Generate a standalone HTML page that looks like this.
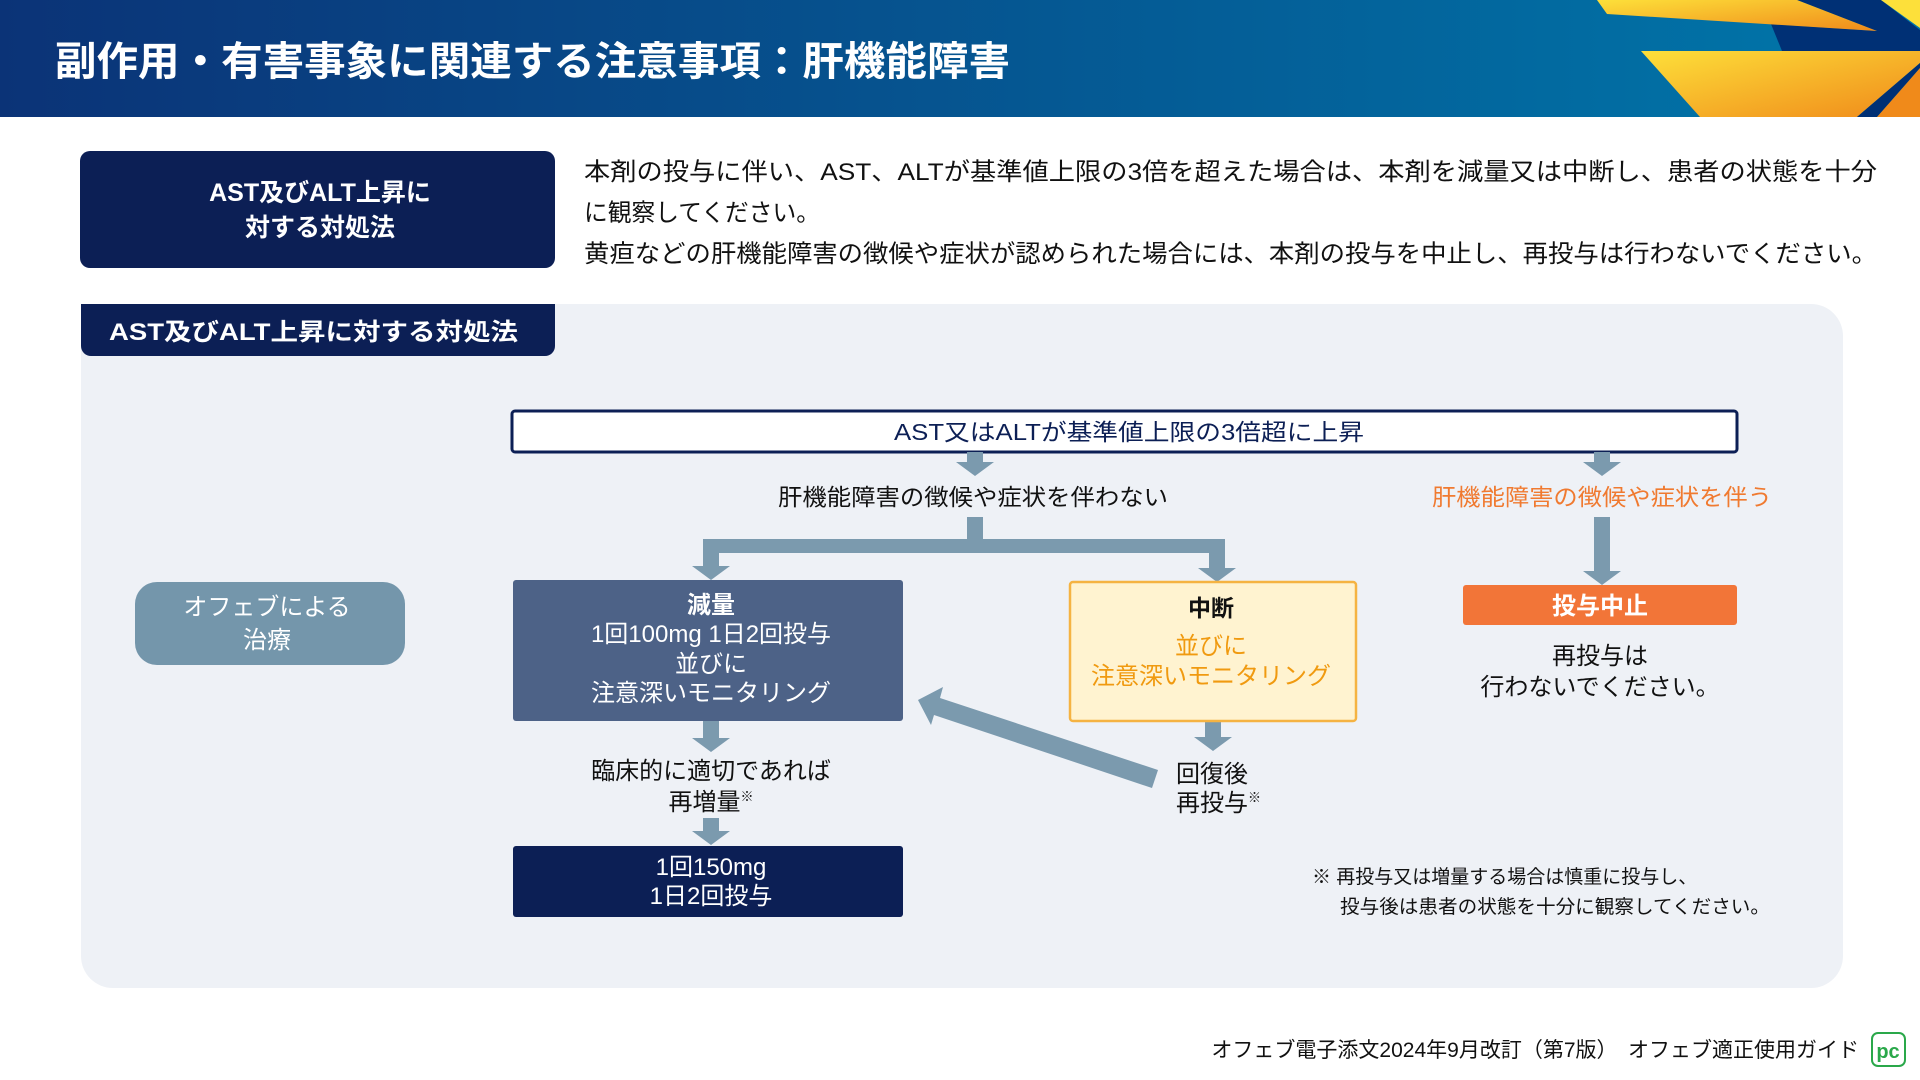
<!DOCTYPE html>
<html><head><meta charset="utf-8"><style>
html,body{margin:0;padding:0;width:1920px;height:1080px;overflow:hidden;background:#fff;font-family:"Liberation Sans","Noto Sans CJK JP",sans-serif;}
svg text{font-family:"Liberation Sans","Noto Sans CJK JP",sans-serif;}
</style></head><body>
<svg width="1920" height="1080" viewBox="0 0 1920 1080" xmlns="http://www.w3.org/2000/svg">
<defs>
<linearGradient id="hg" x1="0" y1="0" x2="1" y2="0">
<stop offset="0" stop-color="#0b3377"/><stop offset="1" stop-color="#0077aa"/></linearGradient>
<linearGradient id="yg" x1="0" y1="0" x2="1" y2="1">
<stop offset="0" stop-color="#fde03a"/><stop offset="1" stop-color="#f08a1a"/></linearGradient>
</defs>
<rect x="0" y="0" width="1920" height="117" fill="url(#hg)"/>
<polygon points="1797,0 1881,0 1920,30 1920,51 1782,51 1771,24 1877,31" fill="#003075"/>
<polygon points="1597,0 1797,0 1877,31 1607,14" fill="url(#yg)"/>
<polygon points="1881,0 1920,0 1920,28" fill="#fde03a"/>
<polygon points="1641,51 1920,51 1920,63 1857,117 1700,117" fill="url(#yg)"/>
<polygon points="1857,117 1920,63 1920,68 1877,117" fill="#003075"/>
<polygon points="1877,117 1920,68 1920,117" fill="#f08a1a"/>
<text x="55" y="75" font-size="40" font-weight="bold" fill="#fff" textLength="955" lengthAdjust="spacingAndGlyphs">副作用・有害事象に関連する注意事項：肝機能障害</text>

<rect x="80" y="151" width="475" height="117" rx="10" fill="#0c1f55"/>
<text x="320" y="201" font-size="25" font-weight="bold" fill="#fff" text-anchor="middle">AST及びALT上昇に</text>
<text x="320" y="236" font-size="25" font-weight="bold" fill="#fff" text-anchor="middle">対する対処法</text>
<g font-size="24.5" fill="#111">
<text x="584" y="180" textLength="1293" lengthAdjust="spacingAndGlyphs">本剤の投与に伴い、AST、ALTが基準値上限の3倍を超えた場合は、本剤を減量又は中断し、患者の状態を十分</text>
<text x="584" y="221" textLength="236" lengthAdjust="spacingAndGlyphs">に観察してください。</text>
<text x="584" y="262" textLength="1293" lengthAdjust="spacingAndGlyphs">黄疸などの肝機能障害の徴候や症状が認められた場合には、本剤の投与を中止し、再投与は行わないでください。</text>
</g>

<rect x="81" y="304" width="1762" height="684" rx="32" fill="#eef1f6"/>
<path d="M81,304 H555 V346 a10,10 0 0 1 -10,10 H91 a10,10 0 0 1 -10,-10 Z" fill="#0c1f55"/>
<text x="109" y="340" font-size="24" font-weight="bold" fill="#fff" textLength="409" lengthAdjust="spacingAndGlyphs">AST及びALT上昇に対する対処法</text>

<rect x="512" y="411" width="1225" height="41" rx="3" fill="#fff" stroke="#0c1f55" stroke-width="3"/>
<text x="1129" y="440" font-size="23" fill="#0c1f55" text-anchor="middle" textLength="470" lengthAdjust="spacingAndGlyphs">AST又はALTが基準値上限の3倍超に上昇</text>

<g fill="#7b9aae">
<rect x="967" y="452" width="16" height="10"/><polygon points="956,462 994,462 975,476"/>
<rect x="1594" y="452" width="16" height="10"/><polygon points="1583,462 1621,462 1602,476"/>
<rect x="967" y="517" width="16" height="36"/>
<rect x="703" y="539" width="522" height="14"/>
<rect x="703" y="553" width="16" height="14"/><polygon points="692,566 730,566 711,580"/>
<rect x="1209" y="553" width="16" height="16"/><polygon points="1198,568 1236,568 1217,582"/>
<rect x="1594" y="517" width="16" height="55"/><polygon points="1583,571 1621,571 1602,585"/>
<rect x="703" y="721" width="16" height="18"/><polygon points="692,738 730,738 711,752"/>
<rect x="703" y="818" width="16" height="14"/><polygon points="692,831 730,831 711,845"/>
<rect x="1205" y="721" width="16" height="17"/><polygon points="1194,737 1232,737 1213,751"/>
<polygon points="1158,770 1152,788 934,715 931,725 918,700 943,687 940,698"/>
</g>

<text x="973" y="505" font-size="23" fill="#111" text-anchor="middle" textLength="390" lengthAdjust="spacingAndGlyphs">肝機能障害の徴候や症状を伴わない</text>
<text x="1602" y="505" font-size="23" fill="#f07a30" text-anchor="middle" textLength="340" lengthAdjust="spacingAndGlyphs">肝機能障害の徴候や症状を伴う</text>

<rect x="135" y="582" width="270" height="83" rx="22" fill="#7496ab"/>
<text x="267" y="615" font-size="24" fill="#fff" text-anchor="middle">オフェブによる</text>
<text x="267" y="648" font-size="24" fill="#fff" text-anchor="middle">治療</text>

<rect x="513" y="580" width="390" height="141" rx="3" fill="#4d6287"/>
<g font-size="24" fill="#fff" text-anchor="middle">
<text x="711" y="613" font-weight="bold">減量</text>
<text x="711" y="642">1回100mg 1日2回投与</text>
<text x="711" y="672">並びに</text>
<text x="711" y="701">注意深いモニタリング</text>
</g>

<rect x="1070" y="582" width="286" height="139" rx="3" fill="#fff3d0" stroke="#f5b342" stroke-width="2.5"/>
<text x="1211" y="616" font-size="23" font-weight="bold" fill="#111" text-anchor="middle">中断</text>
<text x="1211" y="654" font-size="24" fill="#f09a10" text-anchor="middle">並びに</text>
<text x="1211" y="684" font-size="24" fill="#f09a10" text-anchor="middle">注意深いモニタリング</text>

<rect x="1463" y="585" width="274" height="40" rx="3" fill="#f27538"/>
<text x="1600" y="614" font-size="24" font-weight="bold" fill="#fff" text-anchor="middle">投与中止</text>
<text x="1600" y="664" font-size="24" fill="#111" text-anchor="middle">再投与は</text>
<text x="1600" y="695" font-size="24" fill="#111" text-anchor="middle">行わないでください。</text>

<text x="711" y="779" font-size="24" fill="#111" text-anchor="middle">臨床的に適切であれば</text>
<text x="711" y="810" font-size="24" fill="#111" text-anchor="middle">再増量<tspan font-size="13" dy="-9">※</tspan></text>

<rect x="513" y="846" width="390" height="71" rx="3" fill="#0c1f55"/>
<text x="711" y="875" font-size="24" fill="#fff" text-anchor="middle">1回150mg</text>
<text x="711" y="904" font-size="24" fill="#fff" text-anchor="middle">1日2回投与</text>

<text x="1176" y="782" font-size="24" fill="#111">回復後</text>
<text x="1176" y="811" font-size="24" fill="#111">再投与<tspan font-size="13" dy="-9">※</tspan></text>

<text x="1312" y="883" font-size="19" fill="#111">※ 再投与又は増量する場合は慎重に投与し、</text>
<text x="1340" y="913" font-size="19" fill="#111" textLength="430" lengthAdjust="spacingAndGlyphs">投与後は患者の状態を十分に観察してください。</text>

<text x="1859" y="1057" font-size="21" fill="#111" text-anchor="end">オフェブ電子添文2024年9月改訂（第7版）　オフェブ適正使用ガイド</text>
<rect x="1872" y="1033" width="33" height="33" rx="6" fill="#fff" stroke="#2aa84a" stroke-width="2"/>
<text x="1888" y="1058" font-size="20" font-weight="bold" fill="#2aa84a" text-anchor="middle">pc</text>
</svg>
</body></html>
